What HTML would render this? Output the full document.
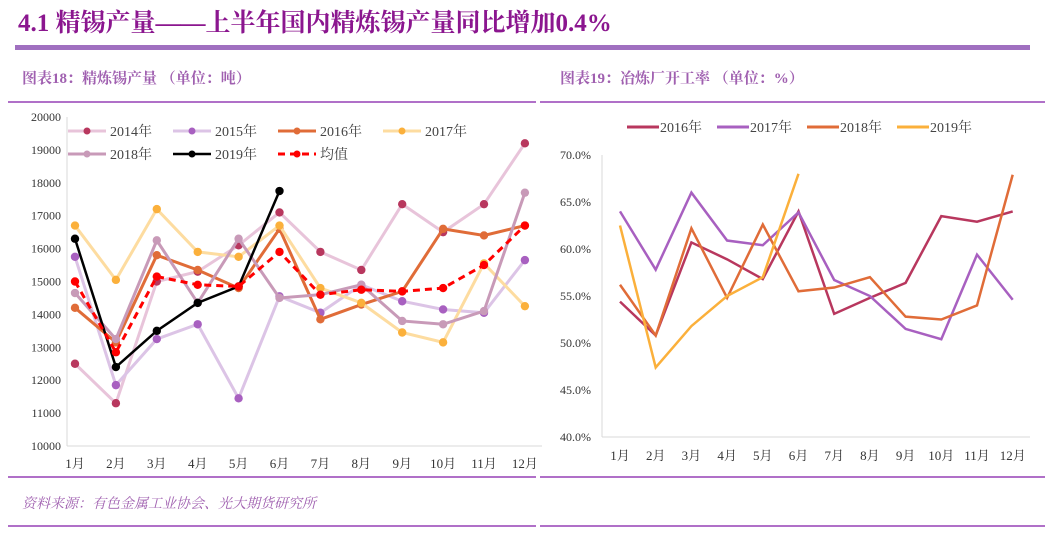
<!DOCTYPE html>
<html><head><meta charset="utf-8">
<style>
html,body{margin:0;padding:0;background:#fff;width:1059px;height:534px;overflow:hidden}
svg text{font-family:"Liberation Serif","Noto Serif CJK SC","Noto Sans CJK SC",serif}
</style></head>
<body>
<svg width="1059" height="534" xmlns="http://www.w3.org/2000/svg">
<text x="18" y="31" font-size="25" font-weight="bold" fill="#8B168F">4.1 精锡产量——上半年国内精炼锡产量同比增加0.4%</text>
<rect x="15" y="45" width="1015" height="5" fill="#A070C0"/>
<text x="22" y="83" font-size="15" font-weight="bold" fill="#A060B0">图表18：精炼锡产量 （单位：吨）</text>
<text x="560" y="83" font-size="15" font-weight="bold" fill="#A060B0">图表19：冶炼厂开工率 （单位：%）</text>
<g stroke="#B070C8" stroke-width="2">
<line x1="8" y1="102" x2="536" y2="102"/><line x1="540" y1="102" x2="1045" y2="102"/>
<line x1="8" y1="477" x2="536" y2="477"/><line x1="540" y1="477" x2="1045" y2="477"/>
<line x1="8" y1="526" x2="536" y2="526"/><line x1="540" y1="526" x2="1045" y2="526"/>
</g>
<text x="22" y="508" font-size="14" font-style="italic" fill="#A060B0">资料来源：有色金属工业协会、光大期货研究所</text>
<g id="left"></g>
<g id="right"></g>
</svg>
<script>
const months=['1月','2月','3月','4月','5月','6月','7月','8月','9月','10月','11月','12月'];
const prodTicks=[10000,11000,12000,13000,14000,15000,16000,17000,18000,19000,20000];
const p2014=[12500,11300,15000,15300,16100,17100,15900,15350,17350,16500,17350,19200];
const p2015=[15750,11850,13250,13700,11450,14550,14050,14900,14400,14150,14050,15650];
const p2016=[14200,13150,15800,15350,14800,16600,13850,14300,14700,16600,16400,16700];
const p2017=[16700,15050,17200,15900,15750,16700,14800,14350,13450,13150,15550,14250];
const p2018=[14650,13250,16250,14350,16300,14500,14600,14900,13800,13700,14100,17700];
const p2019=[16300,12400,13500,14350,14850,17750];
const pAvg=[15000,12850,15150,14900,14850,15900,14600,14750,14700,14800,15500,16700];
const rateTicks=[40,45,50,55,60,65,70];
const r2016=[54.4,50.8,60.7,58.9,56.8,64.0,53.1,54.8,56.4,63.5,62.9,64.0];
const r2017=[64.0,57.8,66.0,60.9,60.4,63.9,56.7,55.0,51.5,50.4,59.4,54.6];
const r2018=[56.2,50.8,62.2,54.8,62.6,55.5,55.9,57.0,52.8,52.5,54.0,67.9];
const r2019=[62.5,47.4,51.8,55.0,57.0,68.0];

const NS='http://www.w3.org/2000/svg';
function mk(parent,tag,attrs,text){const e=document.createElementNS(NS,tag);for(const k in attrs)e.setAttribute(k,attrs[k]);if(text!==undefined)e.textContent=text;parent.appendChild(e);return e;}

// Left chart
const L=document.getElementById('left');
const lx=i=>75+i*40.9, ly=v=>446-(v-10000)/10000*329;
mk(L,'line',{x1:67,y1:117,x2:67,y2:446,stroke:'#d9d9d9'});
mk(L,'line',{x1:67,y1:446,x2:542,y2:446,stroke:'#d9d9d9'});
prodTicks.forEach(t=>{const e=mk(L,'text',{x:61,y:ly(t)+4,'font-size':12,'text-anchor':'end',fill:'#333'},t);

});
months.forEach((m,i)=>{const e=mk(L,'text',{x:lx(i),y:468,'font-size':13,'text-anchor':'middle',fill:'#333'},m);

});
const lseries=[
 {d:p2014,c:'#E8C4DA',m:'#B8375E',n:'2014年',w:3},
 {d:p2015,c:'#DCC4E6',m:'#A860C0',n:'2015年',w:3},
 {d:p2016,c:'#E06C38',m:'#E06C38',n:'2016年',w:3},
 {d:p2017,c:'#FDDCA0',m:'#FBB03B',n:'2017年',w:3},
 {d:p2018,c:'#C89AB8',m:'#C89AB8',n:'2018年',w:3},
 {d:p2019,c:'#000',m:'#000',n:'2019年',w:2.5},
 {d:pAvg,c:'#FF0000',m:'#FF0000',n:'均值',w:3,dash:'7,5'}];
lseries.forEach((s,si)=>{
 const g=mk(L,'g',{});
 
 
 const pts=s.d.map((v,i)=>lx(i)+','+ly(v)).join(' ');
 mk(g,'polyline',{points:pts,fill:'none',stroke:s.c,'stroke-width':s.w,'stroke-dasharray':s.dash||'none'});
 s.d.forEach((v,i)=>{const c=mk(g,'circle',{cx:lx(i),cy:ly(v),r:4.2,fill:s.m});
 
 });
 const lxp=[68,173,278,383][si%4], lyp=si<4?131:154;
 const lg=mk(L,'g',{});
 
 
 mk(lg,'line',{x1:lxp,y1:lyp,x2:lxp+38,y2:lyp,stroke:s.c,'stroke-width':s.w,'stroke-dasharray':s.dash||'none'});
 mk(lg,'circle',{cx:lxp+19,cy:lyp,r:3.5,fill:s.m});
 mk(lg,'text',{x:lxp+42,y:lyp+5,'font-size':14,fill:'#444'},s.n);
});

// Right chart
const R=document.getElementById('right');
const rx=i=>620+i*35.7, ry=v=>437-(v-40)/30*282;
mk(R,'line',{x1:602,y1:155,x2:602,y2:437,stroke:'#d9d9d9'});
mk(R,'line',{x1:602,y1:437,x2:1030,y2:437,stroke:'#d9d9d9'});
rateTicks.forEach(t=>{const e=mk(R,'text',{x:591,y:ry(t)+4,'font-size':12,'text-anchor':'end',fill:'#333'},t.toFixed(1)+'%');

});
months.forEach((m,i)=>{const e=mk(R,'text',{x:rx(i),y:460,'font-size':13,'text-anchor':'middle',fill:'#333'},m);

});
const rseries=[{d:r2016,c:'#B8375E',n:'2016年'},{d:r2017,c:'#A860C0',n:'2017年'},{d:r2018,c:'#E06C38',n:'2018年'},{d:r2019,c:'#FBB03B',n:'2019年'}];
rseries.forEach((s,si)=>{
 const g=mk(R,'g',{});
 
 
 mk(g,'polyline',{points:s.d.map((v,i)=>rx(i)+','+ry(v)).join(' '),fill:'none',stroke:s.c,'stroke-width':2.5});
 const lxp=627+si*90;
 const lg=mk(R,'g',{});
 
 
 mk(lg,'line',{x1:lxp,y1:127,x2:lxp+32,y2:127,stroke:s.c,'stroke-width':3});
 mk(lg,'text',{x:lxp+33,y:132,'font-size':14,fill:'#444'},s.n);
});
</script>
</body></html>
